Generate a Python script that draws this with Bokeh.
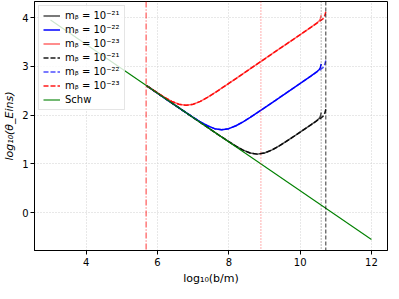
from bokeh.plotting import figure
from bokeh.models import Span, Legend, LegendItem, Range1d, FixedTicker
from bokeh.embed import file_html
from bokeh.resources import INLINE

# ---- data ----
red_x = [5.7, 6.0, 6.2, 6.4, 6.6, 6.8, 7.0, 7.2, 7.4, 7.6, 7.8, 8.0, 8.3, 8.8, 9.3, 9.8, 10.3, 10.45, 10.53, 10.57, 10.59]
red_y = [2.601, 2.455, 2.363, 2.282, 2.223, 2.201, 2.223, 2.282, 2.363, 2.455, 2.552, 2.651, 2.800, 3.05, 3.30, 3.55, 3.80, 3.88, 3.93, 3.98, 4.05]
red_dx = [5.7, 6.0, 6.2, 6.4, 6.6, 6.8, 7.0, 7.2, 7.4, 7.6, 7.8, 8.0, 8.3, 8.8, 9.3, 9.8, 10.3, 10.55, 10.64, 10.69, 10.72]
red_dy = [2.601, 2.455, 2.363, 2.282, 2.223, 2.201, 2.223, 2.282, 2.363, 2.455, 2.552, 2.651, 2.800, 3.05, 3.30, 3.55, 3.80, 3.925, 3.975, 4.04, 4.12]

blue_x = [5.7, 6.2, 6.6, 6.8, 7.0, 7.2, 7.4, 7.6, 7.8, 8.0, 8.2, 8.4, 8.6, 8.8, 9.0, 9.3, 9.8, 10.3, 10.45, 10.53, 10.57, 10.59]
blue_y = [2.600, 2.350, 2.151, 2.052, 1.955, 1.863, 1.782, 1.723, 1.701, 1.723, 1.782, 1.863, 1.955, 2.052, 2.151, 2.300, 2.550, 2.80, 2.88, 2.93, 2.98, 3.05]
blue_dx = [5.7, 6.2, 6.6, 6.8, 7.0, 7.2, 7.4, 7.6, 7.8, 8.0, 8.2, 8.4, 8.6, 8.8, 9.0, 9.3, 9.8, 10.3, 10.55, 10.64, 10.69, 10.72]
blue_dy = [2.600, 2.350, 2.151, 2.052, 1.955, 1.863, 1.782, 1.723, 1.701, 1.723, 1.782, 1.863, 1.955, 2.052, 2.151, 2.300, 2.550, 2.80, 2.925, 2.975, 3.04, 3.12]

black_x = [5.7, 6.5, 7.2, 7.6, 7.8, 8.0, 8.2, 8.4, 8.6, 8.8, 9.0, 9.2, 9.4, 9.6, 9.8, 10.0, 10.3, 10.45, 10.53, 10.57, 10.59]
black_y = [2.600, 2.200, 1.850, 1.651, 1.552, 1.455, 1.363, 1.282, 1.223, 1.201, 1.223, 1.282, 1.363, 1.455, 1.552, 1.651, 1.800, 1.88, 1.93, 1.98, 2.05]
black_dx = [5.7, 6.5, 7.2, 7.6, 7.8, 8.0, 8.2, 8.4, 8.6, 8.8, 9.0, 9.2, 9.4, 9.6, 9.8, 10.0, 10.3, 10.55, 10.64, 10.69, 10.72]
black_dy = [2.600, 2.200, 1.850, 1.651, 1.552, 1.455, 1.363, 1.282, 1.223, 1.201, 1.223, 1.282, 1.363, 1.455, 1.552, 1.651, 1.800, 1.925, 1.975, 2.04, 2.12]

schw_x = [3.0, 12.0]
schw_y = [3.95, -0.55]

vlines_x = [5.68, 8.9, 10.59, 10.72]

x_ticks = [4, 6, 8, 10, 12]
y_ticks = [0, 1, 2, 3, 4]

labels = ["mᵦ = 10⁻²¹", "mᵦ = 10⁻²²", "mᵦ = 10⁻²³",
          "mᵦ = 10⁻²¹", "mᵦ = 10⁻²²", "mᵦ = 10⁻²³", "Schw"]

FONT = "DejaVu Sans"

p = figure(frame_width=353, frame_height=249, output_backend="svg", toolbar_location=None,
           x_range=Range1d(2.55, 12.45), y_range=Range1d(-0.775, 4.33),
           min_border_left=28, min_border_right=2, min_border_top=1, min_border_bottom=30,
           background_fill_color="white", border_fill_color="white")

p.outline_line_color = "black"
p.outline_line_width = 1
p.outline_line_alpha = 1

for ax in (p.xaxis, p.yaxis):
    ax.axis_line_color = "black"
    ax.major_tick_line_color = "black"
    ax.major_tick_out = 4
    ax.major_tick_in = 0
    ax.minor_tick_line_color = None
    ax.major_label_text_font = FONT
    ax.major_label_text_font_size = "10px"
    ax.major_label_text_color = "black"
    ax.axis_label_text_font = FONT
    ax.axis_label_text_font_size = "11px"
    ax.axis_label_text_color = "black"

p.xaxis.ticker = FixedTicker(ticks=x_ticks)
p.yaxis.ticker = FixedTicker(ticks=y_ticks)
p.xaxis.major_label_standoff = 3
p.yaxis.major_label_standoff = 2
p.xaxis.axis_label_standoff = 3
p.yaxis.axis_label_standoff = 3
p.xaxis.axis_label = "log₁₀(b/m)"
p.yaxis.axis_label = "log₁₀(θ_Eins)"
p.yaxis.axis_label_text_font_style = "italic"
p.xaxis.axis_label_text_font_style = "normal"

for g in (p.xgrid, p.ygrid):
    g.grid_line_color = "#d0d0d0"
    g.grid_line_dash = "1 2"
    g.grid_line_width = 1

# vertical lines
p.add_layout(Span(location=vlines_x[0], dimension="height", line_color="red", line_dash="6 2 1 2", line_width=1, line_alpha=0.8))
p.add_layout(Span(location=vlines_x[1], dimension="height", line_color="red", line_dash="1 2", line_width=0.8, line_alpha=0.8))
p.add_layout(Span(location=vlines_x[2], dimension="height", line_color="black", line_dash="1 2", line_width=0.8, line_alpha=0.7))
p.add_layout(Span(location=vlines_x[3], dimension="height", line_color="black", line_dash="4 2", line_width=1, line_alpha=0.8))

r1 = p.line(black_x, black_y, line_color="black", line_width=1.5, line_alpha=0.7)
r2 = p.line(blue_x, blue_y, line_color="blue", line_width=1.5, line_alpha=1.0)
r3 = p.line(red_x, red_y, line_color="red", line_width=1.5, line_alpha=0.6)
r4 = p.line(black_dx, black_dy, line_color="black", line_width=1.5, line_dash="5 2", line_alpha=0.9)
r5 = p.line(blue_dx, blue_dy, line_color="blue", line_width=1.5, line_dash="5 2", line_alpha=0.7)
r6 = p.line(red_dx, red_dy, line_color="red", line_width=1.5, line_dash="5 2", line_alpha=0.9)
r7 = p.line(schw_x, schw_y, line_color="green", line_width=1.1)

legend = Legend(items=[LegendItem(label=l, renderers=[r]) for l, r in zip(labels, [r1, r2, r3, r4, r5, r6, r7])],
                location="top_left")
legend.margin = 4
legend.padding = 4
legend.spacing = 3
legend.glyph_width = 17
legend.glyph_height = 11
legend.label_height = 11
legend.label_standoff = 5
legend.label_text_font = FONT
legend.label_text_font_size = "10px"
legend.label_text_color = "black"
legend.background_fill_color = "white"
legend.background_fill_alpha = 0.8
legend.border_line_color = "#cccccc"
legend.border_line_width = 1
p.add_layout(legend, "center")

open("out.html", "w").write(file_html(p, INLINE))
